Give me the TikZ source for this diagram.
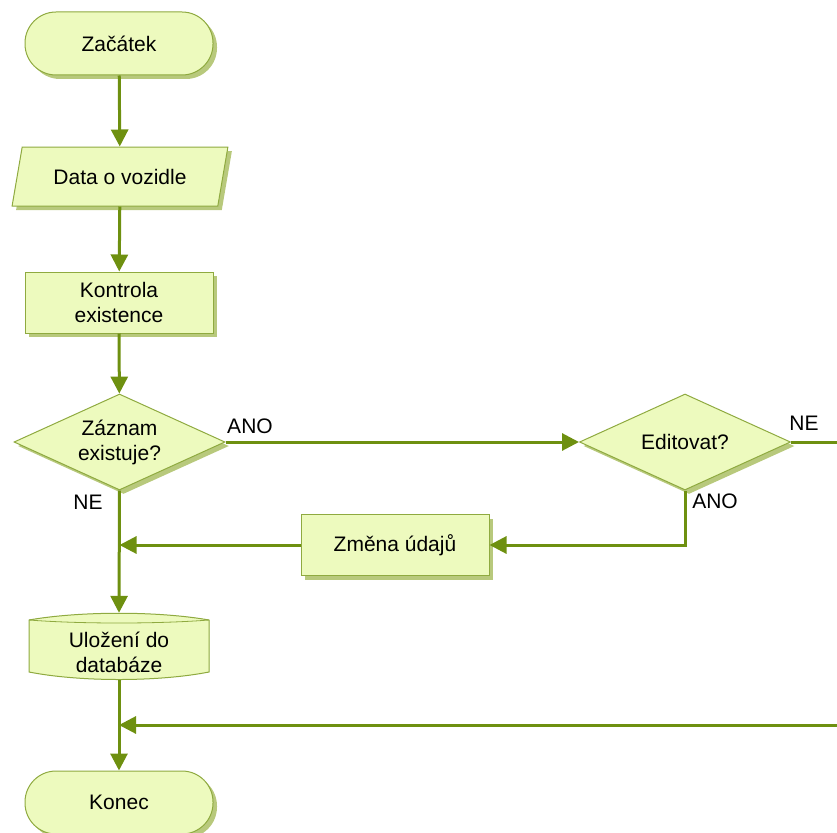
\documentclass[tikz,border=0pt]{standalone}
\usepackage{fontspec}
\setmainfont{Liberation Sans}
\usetikzlibrary{shapes.geometric,shadows,arrows.meta,calc}
\definecolor{fillg}{HTML}{EDFABE}
\definecolor{edgeg}{HTML}{8FAA40}
\definecolor{lineg}{HTML}{6E9010}
\definecolor{shadg}{HTML}{B8C97C}
\begin{document}
\begin{tikzpicture}[x=1pt,y=-1pt,
  txt/.style={font=\fontsize{21}{25}\selectfont, inner sep=0pt, align=center},
  box/.style={txt, draw=edgeg, line width=1pt, fill=fillg,
    general shadow={fill=shadg, shadow xshift=4pt, shadow yshift=-4pt}},
  term/.style={box, rectangle, rounded corners=31pt, minimum width=188pt, minimum height=63pt},
  proc/.style={box, rectangle, minimum width=188pt, minimum height=61pt},
  io/.style={box, trapezium, trapezium left angle=66, trapezium right angle=114,
    trapezium stretches=true, minimum width=216pt, minimum height=59pt},
  dec/.style={box, diamond, minimum width=211pt, minimum height=96pt},
  conn/.style={draw=lineg, line width=3pt},
  arr/.style={conn, -{Triangle[length=17pt,width=17pt]}},
  lbl/.style={txt}
]
\useasboundingbox (0,0) rectangle (837,832);

\node[term] (start) at (119,43.5) {Začátek};
\node[io] (data) at (120,176.5) {Data o vozidle};
\node[proc] (kon) at (119,302.5) {Kontrola\\existence};
\node[dec] (q1) at (119.5,442) {};
\node[txt] (q1t) at (q1) {Záznam\\existuje?};
\node[dec] (q2) at (685,442) {};
\node[txt] (q2t) at (q2) {Editovat?};
\node[proc] (zm) at (395,545) {Změna údajů};

% storage shape
\node[txt, minimum width=180pt, minimum height=67pt] (db) at (119,646.5) {};
\fill[shadg, shift={(4,4)}]
  ($(db.center)+(-90,-26.5)$) .. controls ($(db.center)+(-39,-35.5)$) and ($(db.center)+(39,-35.5)$) .. ($(db.center)+(90,-26.5)$)
  -- ($(db.center)+(90,25.5)$) .. controls ($(db.center)+(39,35.5)$) and ($(db.center)+(-39,35.5)$) .. ($(db.center)+(-90,25.5)$) -- cycle;
\filldraw[fill=fillg, draw=edgeg, line width=1pt]
  ($(db.center)+(-90,-26.5)$) .. controls ($(db.center)+(-39,-35.5)$) and ($(db.center)+(39,-35.5)$) .. ($(db.center)+(90,-26.5)$)
  -- ($(db.center)+(90,25.5)$) .. controls ($(db.center)+(39,35.5)$) and ($(db.center)+(-39,35.5)$) .. ($(db.center)+(-90,25.5)$) -- cycle;
\draw[draw=edgeg, line width=0.8pt]
  ($(db.center)+(-90,-26.5)$) .. controls ($(db.center)+(-39,-22.5)$) and ($(db.center)+(39,-22.5)$) .. ($(db.center)+(90,-26.5)$);
\node[txt] (dbt) at (119,652.5) {Uložení do\\databáze};

\node[term] (end) at (119,802.5) {Konec};

\coordinate (rne) at (837,442);
\coordinate (rin) at (837,725);

\draw[arr] (start) -- (data);
\draw[arr] (data) -- (kon);
\draw[arr] (kon) -- (q1);
\draw[arr] (q1.east) -- (q2.west);
\draw[conn] (q2.east) -- (rne);
\draw[arr] (q2.south) |- (zm.east);
\draw[arr] (zm.west) -- (zm.west -| q1.south);
\draw[arr] (q1.south) -- (db.north);
\draw[arr] (db.south) -- (end.north);
\draw[arr] (rin) -- (rin -| db.south);

\node[lbl] (l1) at (250,426) {ANO};
\node[lbl] (l2) at (804,423) {NE};
\node[lbl] (l3) at (715,501) {ANO};
\node[lbl] (l4) at (88,502) {NE};
\end{tikzpicture}
\end{document}
